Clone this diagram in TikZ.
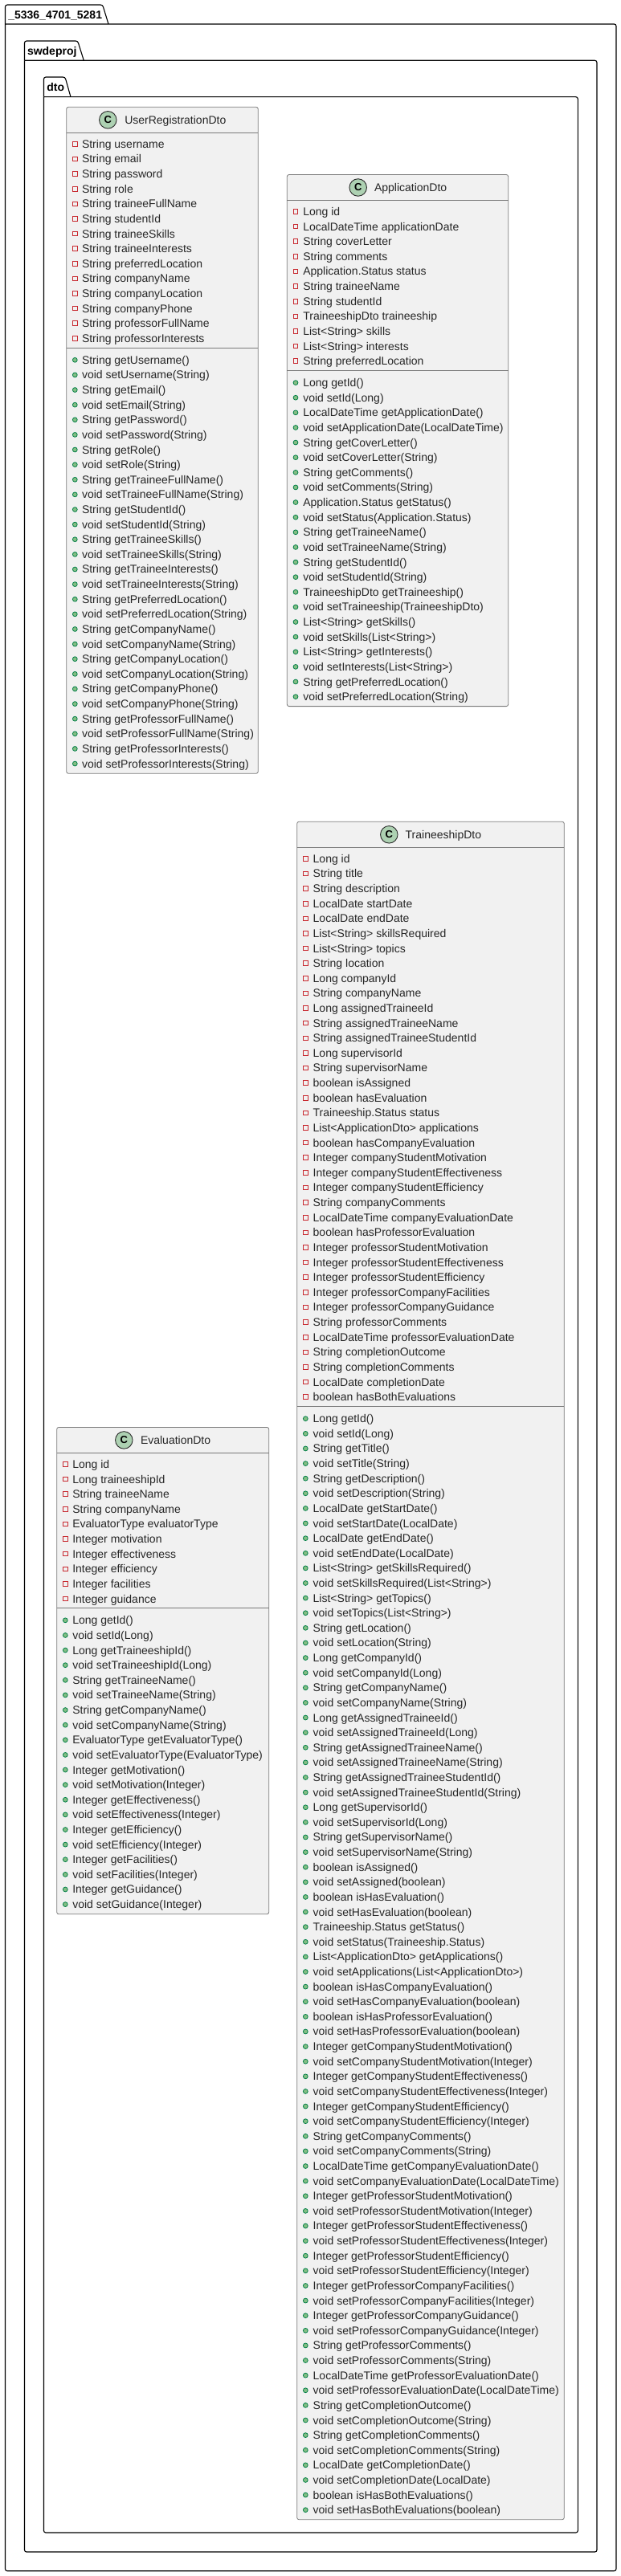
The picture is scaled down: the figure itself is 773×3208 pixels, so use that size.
\documentclass[tikz,border=0pt]{standalone}
\usepackage{fontspec}
\usepackage{xcolor}
\setmainfont{Liberation Sans}
\definecolor{classfill}{HTML}{F1F1F1}
\definecolor{classline}{HTML}{7A7A7A}
\definecolor{spotline}{HTML}{2A2A2A}
\definecolor{spotfill}{HTML}{ADD1B2}
\definecolor{privline}{HTML}{C82930}
\definecolor{publine}{HTML}{038048}
\definecolor{pubfill}{HTML}{84BE84}
\begin{document}
\begin{tikzpicture}[x=1pt,y=-1pt]
\tikzstyle{every node}+=[inner sep=0pt,outer sep=0pt]
\tikzstyle{pkgframe}=[draw=black,line width=1.1pt,rounded corners=2.5pt]
\tikzstyle{pkgtitle}=[anchor=base west,font=\fontsize{14}{16}\selectfont\bfseries]
\tikzstyle{classbox}=[draw=classline,line width=.8pt,fill=classfill,rounded corners=2.5pt,anchor=north west,rectangle]
\tikzstyle{classrule}=[draw=classline,line width=.8pt]
\tikzstyle{spot}=[draw=spotline,line width=.9pt,fill=spotfill,circle,minimum size=21.5pt]
\tikzstyle{spotletter}=[font=\fontsize{13}{16}\selectfont\bfseries]
\tikzstyle{classname}=[anchor=base west,font=\fontsize{14}{16}\selectfont,text=black!85]
\tikzstyle{member}=[anchor=base west,font=\fontsize{14}{16}\selectfont,text=black!85]
\tikzstyle{privmark}=[draw=privline,line width=.9pt,rectangle,minimum size=5.6pt]
\tikzstyle{pubmark}=[draw=publine,line width=.8pt,fill=pubfill,circle,minimum size=5.8pt]
\useasboundingbox (0,0) rectangle (773,3208);
% packages
\draw [pkgframe] (6.5,30) -- (6.5,6) -- (127.7,6) -- (135,30);
\draw [pkgframe] (6.5,30) -- (767,30) -- (767,3201.7) -- (6.5,3201.7) -- (6.5,30);
\node [pkgtitle] (rootname) at (10.3,23.5) {\_5336\_4701\_5281};
\draw [pkgframe] (30.5,75.3) -- (30.5,51) -- (96.7,51) -- (104.3,75.3);
\draw [pkgframe] (30.5,75.3) -- (743,75.3) -- (743,3178) -- (30.5,3178) -- (30.5,75.3);
\node [pkgtitle] (swdename) at (34,68.6) {swdeproj};
\draw [pkgframe] (54.5,120.7) -- (54.5,96) -- (81,96) -- (88,120.7);
\draw [pkgframe] (54.5,120.7) -- (719.3,120.7) -- (719.3,3154) -- (54.5,3154) -- (54.5,120.7);
\node [pkgtitle] (dtoname) at (58.3,113.7) {dto};
% UserRegistrationDto
\node [classbox,minimum width=238.6pt,minimum height=830pt] (usercls) at (82.7,133.3) {};
\draw [classrule] (usercls.west |- 0,165.3) -- (usercls.east |- 0,165.3);
\draw [classrule] (usercls.west |- 0,433.3) -- (usercls.east |- 0,433.3);
\node [spot] (userspot) at (134.3,149.3) {};
\node [spotletter] (userc) at (userspot) {C};
\node [classname] (username) at (155.3,154.5) {UserRegistrationDto};
\foreach [count=\n,evaluate=\n as \y using 179.3+(\n-1)*18.62] \m in {String username,String email,String password,String role,
  String traineeFullName,String studentId,String traineeSkills,String traineeInterests,String preferredLocation,
  String companyName,String companyLocation,String companyPhone,String professorFullName,String professorInterests}
{
\node [privmark] (userpm\n) at (93.3,\y) {};
\node [member] (userp\n) at (102,\y+5) {\m};
}
\foreach [count=\n,evaluate=\n as \y using 448.3+(\n-1)*18.62] \m in {String getUsername(),void setUsername(String),
  String getEmail(),void setEmail(String),String getPassword(),void setPassword(String),String getRole(),void setRole(String),
  String getTraineeFullName(),void setTraineeFullName(String),String getStudentId(),void setStudentId(String),
  String getTraineeSkills(),void setTraineeSkills(String),String getTraineeInterests(),void setTraineeInterests(String),
  String getPreferredLocation(),void setPreferredLocation(String),String getCompanyName(),void setCompanyName(String),
  String getCompanyLocation(),void setCompanyLocation(String),String getCompanyPhone(),void setCompanyPhone(String),
  String getProfessorFullName(),void setProfessorFullName(String),String getProfessorInterests(),void setProfessorInterests(String)}
{
\node [pubmark] (usermm\n) at (93.3,\y) {};
\node [member] (userm\n) at (102,\y+5) {\m};
}
% ApplicationDto
\node [classbox,minimum width=275.4pt,minimum height=662.1pt] (applcls) at (357.3,217.5) {};
\draw [classrule] (applcls.west |- 0,249.5) -- (applcls.east |- 0,249.5);
\draw [classrule] (applcls.west |- 0,461.6) -- (applcls.east |- 0,461.6);
\node [spot] (applspot) at (445.7,233.5) {};
\node [spotletter] (applc) at (applspot) {C};
\node [classname] (applname) at (466,238.7) {ApplicationDto};
\foreach [count=\n,evaluate=\n as \y using 263.5+(\n-1)*18.62] \m in {Long id,LocalDateTime applicationDate,String coverLetter,
  String comments,Application.Status status,String traineeName,String studentId,TraineeshipDto traineeship,
  List<String> skills,List<String> interests,String preferredLocation}
{
\node [privmark] (applpm\n) at (368,\y) {};
\node [member] (applp\n) at (377.3,\y+5) {\m};
}
\foreach [count=\n,evaluate=\n as \y using 476.6+(\n-1)*18.62] \m in {Long getId(),void setId(Long),
  LocalDateTime getApplicationDate(),void setApplicationDate(LocalDateTime),String getCoverLetter(),void setCoverLetter(String),
  String getComments(),void setComments(String),Application.Status getStatus(),void setStatus(Application.Status),
  String getTraineeName(),void setTraineeName(String),String getStudentId(),void setStudentId(String),
  TraineeshipDto getTraineeship(),void setTraineeship(TraineeshipDto),List<String> getSkills(),void setSkills(List<String>),
  List<String> getInterests(),void setInterests(List<String>),String getPreferredLocation(),void setPreferredLocation(String)}
{
\node [pubmark] (applmm\n) at (368,\y) {};
\node [member] (applm\n) at (377.3,\y+5) {\m};
}
% TraineeshipDto
\node [classbox,minimum width=332.6pt,minimum height=2114.4pt] (trancls) at (369.7,1023.3) {};
\draw [classrule] (trancls.west |- 0,1055.3) -- (trancls.east |- 0,1055.3);
\draw [classrule] (trancls.west |- 0,1751.7) -- (trancls.east |- 0,1751.7);
\node [spot] (transpot) at (484.3,1039.3) {};
\node [spotletter] (tranc) at (transpot) {C};
\node [classname] (tranname) at (504.7,1044.5) {TraineeshipDto};
\foreach [count=\n,evaluate=\n as \y using 1069.3+(\n-1)*18.62] \m in {Long id,String title,String description,LocalDate startDate,
  LocalDate endDate,List<String> skillsRequired,List<String> topics,String location,Long companyId,String companyName,
  Long assignedTraineeId,String assignedTraineeName,String assignedTraineeStudentId,Long supervisorId,String supervisorName,
  boolean isAssigned,boolean hasEvaluation,Traineeship.Status status,List<ApplicationDto> applications,
  boolean hasCompanyEvaluation,Integer companyStudentMotivation,Integer companyStudentEffectiveness,
  Integer companyStudentEfficiency,String companyComments,LocalDateTime companyEvaluationDate,boolean hasProfessorEvaluation,
  Integer professorStudentMotivation,Integer professorStudentEffectiveness,Integer professorStudentEfficiency,
  Integer professorCompanyFacilities,Integer professorCompanyGuidance,String professorComments,
  LocalDateTime professorEvaluationDate,String completionOutcome,String completionComments,LocalDate completionDate,
  boolean hasBothEvaluations}
{
\node [privmark] (tranpm\n) at (380.3,\y) {};
\node [member] (tranp\n) at (389.7,\y+5) {\m};
}
\foreach [count=\n,evaluate=\n as \y using 1766.7+(\n-1)*18.616] \m in {Long getId(),void setId(Long),String getTitle(),
  void setTitle(String),String getDescription(),void setDescription(String),LocalDate getStartDate(),void setStartDate(LocalDate),
  LocalDate getEndDate(),void setEndDate(LocalDate),List<String> getSkillsRequired(),void setSkillsRequired(List<String>),
  List<String> getTopics(),void setTopics(List<String>),String getLocation(),void setLocation(String),Long getCompanyId(),
  void setCompanyId(Long),String getCompanyName(),void setCompanyName(String),Long getAssignedTraineeId(),
  void setAssignedTraineeId(Long),String getAssignedTraineeName(),void setAssignedTraineeName(String),
  String getAssignedTraineeStudentId(),void setAssignedTraineeStudentId(String),Long getSupervisorId(),void setSupervisorId(Long),
  String getSupervisorName(),void setSupervisorName(String),boolean isAssigned(),void setAssigned(boolean),
  boolean isHasEvaluation(),void setHasEvaluation(boolean),Traineeship.Status getStatus(),void setStatus(Traineeship.Status),
  List<ApplicationDto> getApplications(),void setApplications(List<ApplicationDto>),boolean isHasCompanyEvaluation(),
  void setHasCompanyEvaluation(boolean),boolean isHasProfessorEvaluation(),void setHasProfessorEvaluation(boolean),
  Integer getCompanyStudentMotivation(),void setCompanyStudentMotivation(Integer),Integer getCompanyStudentEffectiveness(),
  void setCompanyStudentEffectiveness(Integer),Integer getCompanyStudentEfficiency(),void setCompanyStudentEfficiency(Integer),
  String getCompanyComments(),void setCompanyComments(String),LocalDateTime getCompanyEvaluationDate(),
  void setCompanyEvaluationDate(LocalDateTime),Integer getProfessorStudentMotivation(),void setProfessorStudentMotivation(Integer),
  Integer getProfessorStudentEffectiveness(),void setProfessorStudentEffectiveness(Integer),Integer getProfessorStudentEfficiency(),
  void setProfessorStudentEfficiency(Integer),Integer getProfessorCompanyFacilities(),void setProfessorCompanyFacilities(Integer),
  Integer getProfessorCompanyGuidance(),void setProfessorCompanyGuidance(Integer),String getProfessorComments(),
  void setProfessorComments(String),LocalDateTime getProfessorEvaluationDate(),void setProfessorEvaluationDate(LocalDateTime),
  String getCompletionOutcome(),void setCompletionOutcome(String),String getCompletionComments(),void setCompletionComments(String),
  LocalDate getCompletionDate(),void setCompletionDate(LocalDate),boolean isHasBothEvaluations(),void setHasBothEvaluations(boolean)}
{
\node [pubmark] (tranmm\n) at (380.3,\y) {};
\node [member] (tranm\n) at (389.7,\y+5) {\m};
}
% EvaluationDto
\node [classbox,minimum width=264pt,minimum height=606.4pt] (evalcls) at (70.7,1777.4) {};
\draw [classrule] (evalcls.west |- 0,1809.4) -- (evalcls.east |- 0,1809.4);
\draw [classrule] (evalcls.west |- 0,2002.8) -- (evalcls.east |- 0,2002.8);
\node [spot] (evalspot) at (154.3,1793.4) {};
\node [spotletter] (evalc) at (evalspot) {C};
\node [classname] (evalname) at (175,1798.6) {EvaluationDto};
\foreach [count=\n,evaluate=\n as \y using 1823.4+(\n-1)*18.62] \m in {Long id,Long traineeshipId,String traineeName,
  String companyName,EvaluatorType evaluatorType,Integer motivation,Integer effectiveness,Integer efficiency,
  Integer facilities,Integer guidance}
{
\node [privmark] (evalpm\n) at (81.3,\y) {};
\node [member] (evalp\n) at (90.3,\y+5) {\m};
}
\foreach [count=\n,evaluate=\n as \y using 2017.8+(\n-1)*18.62] \m in {Long getId(),void setId(Long),Long getTraineeshipId(),
  void setTraineeshipId(Long),String getTraineeName(),void setTraineeName(String),String getCompanyName(),
  void setCompanyName(String),EvaluatorType getEvaluatorType(),void setEvaluatorType(EvaluatorType),Integer getMotivation(),
  void setMotivation(Integer),Integer getEffectiveness(),void setEffectiveness(Integer),Integer getEfficiency(),
  void setEfficiency(Integer),Integer getFacilities(),void setFacilities(Integer),Integer getGuidance(),void setGuidance(Integer)}
{
\node [pubmark] (evalmm\n) at (81.3,\y) {};
\node [member] (evalm\n) at (90.3,\y+5) {\m};
}
\end{tikzpicture}
\end{document}
